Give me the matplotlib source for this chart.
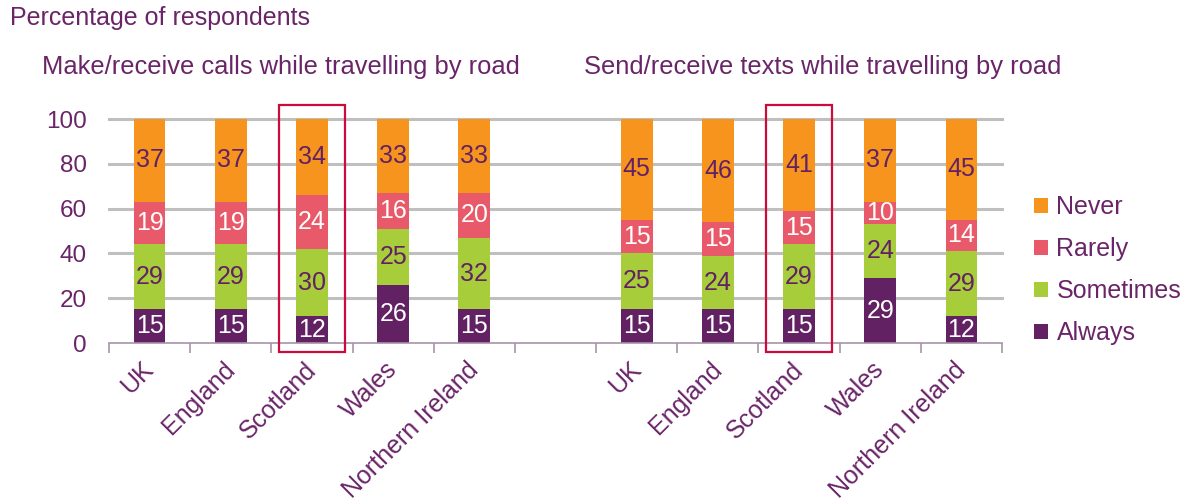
import matplotlib
matplotlib.use("Agg")
import matplotlib.pyplot as plt
import matplotlib.transforms as mtransforms
from matplotlib.patches import Rectangle
import numpy as np

plt.rcParams['font.family'] = ['Liberation Sans', 'DejaVu Sans']

regions = ["UK", "England", "Scotland", "Wales", "Northern Ireland"]
panel_titles = ["Make/receive calls while travelling by road",
                "Send/receive texts while travelling by road"]
series_names = ["Always", "Sometimes", "Rarely", "Never"]

# Calls (percent of respondents)
calls_always    = [15, 15, 12, 26, 15]
calls_sometimes = [29, 29, 30, 25, 32]
calls_rarely    = [19, 19, 24, 16, 20]
calls_never     = [37, 37, 34, 33, 33]

# Texts (percent of respondents)
texts_always    = [15, 15, 15, 29, 12]
texts_sometimes = [25, 24, 29, 24, 29]
texts_rarely    = [15, 15, 15, 10, 14]
texts_never     = [45, 46, 41, 37, 45]

highlight = "Scotland"

colors = {"Always": "#622163", "Sometimes": "#A7CD3A",
          "Rarely": "#E8596A", "Never": "#F7941E"}
label_colors = {"Always": "white", "Sometimes": "#622163",
                "Rarely": "white", "Never": "#622163"}
text_col = "#6A2468"
grid_col = "#BFBFBF"
axis_col = "#A893A8"
box_col = "#CC0A3C"
fs = 18

fig = plt.figure(figsize=(11.89, 5.04), dpi=100)
ax = fig.add_axes([109/1189, 1 - 343/504, (1002 - 109)/1189, (343 - 119)/504])

n = len(regions)
pos_calls = np.arange(n)
pos_texts = np.arange(n) + n + 1
width = 0.39

groups = [
    (pos_calls, [calls_always, calls_sometimes, calls_rarely, calls_never]),
    (pos_texts, [texts_always, texts_sometimes, texts_rarely, texts_never]),
]

for pos, stacks in groups:
    bottom = np.zeros(n)
    for name, vals in zip(series_names, stacks):
        vals = np.array(vals, dtype=float)
        ax.bar(pos, vals, width, bottom=bottom, color=colors[name],
               label=name, zorder=3, linewidth=0)
        for x, b, v in zip(pos, bottom, vals):
            ax.text(x, b + v / 2, f"{int(v)}", ha="center", va="center",
                    color=label_colors[name], fontsize=fs, zorder=4)
        bottom += vals

# gridlines
ax.set_ylim(0, 100)
ax.set_xlim(-0.5, 2 * n + 0.5)
for y in [20, 40, 60, 80, 100]:
    ax.axhline(y, color=grid_col, linewidth=2.2, zorder=1, clip_on=False)

ax.set_yticks([0, 20, 40, 60, 80, 100])
ax.tick_params(axis="y", length=0, labelsize=17.5, labelcolor=text_col, pad=16)

all_pos = list(pos_calls) + list(pos_texts)
ax.set_xticks(all_pos)
ax.set_xticklabels(regions + regions, rotation=45, ha="right",
                   rotation_mode="anchor", fontsize=fs, color=text_col)
ax.tick_params(axis="x", which="major", length=0, pad=4)
shift = mtransforms.ScaledTranslation(-8 / 100, -9 / 100, fig.dpi_scale_trans)
for lbl in ax.get_xticklabels():
    lbl.set_transform(lbl.get_transform() + shift)
ax.set_xticks(np.arange(-0.5, 2 * n + 1, 1.0), minor=True)
ax.tick_params(axis="x", which="minor", length=7, width=1.2, color=axis_col,
               direction="out")

for s in ["top", "right", "left"]:
    ax.spines[s].set_visible(False)
ax.spines["bottom"].set_color(axis_col)
ax.spines["bottom"].set_linewidth(1.2)
ax.spines["bottom"].set_zorder(5)

# highlight boxes
hi = regions.index(highlight)
for pos in (pos_calls, pos_texts):
    r = Rectangle((pos[hi] - 0.41, -4.0), 0.82, 110.3, fill=False,
                  edgecolor=box_col, linewidth=1.6, clip_on=False, zorder=6)
    ax.add_patch(r)

# titles
fig.text(10/1189, 1 - 18/504, "Percentage of respondents", fontsize=fs,
         color=text_col, ha="left", va="center")
fig.text(42/1189, 1 - 67/504, panel_titles[0], fontsize=18.4,
         color=text_col, ha="left", va="center")
fig.text(584/1189, 1 - 67/504, panel_titles[1], fontsize=18.4,
         color=text_col, ha="left", va="center")

# legend
handles, labels = ax.get_legend_handles_labels()
uniq = {}
for h, l in zip(handles, labels):
    uniq.setdefault(l, h)
order = ["Never", "Rarely", "Sometimes", "Always"]
leg = fig.legend([uniq[o] for o in order], order, loc="center left",
                 bbox_to_anchor=(1034/1189, 1 - 270/504), frameon=False,
                 fontsize=fs, labelcolor=text_col, handlelength=0.55,
                 handleheight=0.55, handletextpad=0.35, labelspacing=0.72,
                 borderpad=0, borderaxespad=0)

fig.savefig("out.png", dpi=100)
